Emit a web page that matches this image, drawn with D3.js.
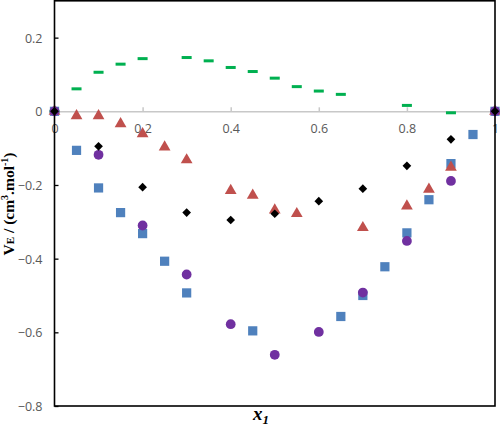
<!DOCTYPE html>
<html>
<head>
<meta charset="utf-8">
<style>
  body { margin: 0; background: #fff; }
  .tick text { font-family: "Open Sans", sans-serif; font-size: 12.5px; fill: #595959; }
</style>
</head>
<body>
<svg width="500" height="426"></svg>
<script src="https://cdn.jsdelivr.net/npm/d3@7"></script>
<script>
// values
var xTicks = [0, 0.2, 0.4, 0.6, 0.8, 1];
var yTicks = [0.2, 0, -0.2, -0.4, -0.6, -0.8];

var greenX = [0, 0.05, 0.1, 0.15, 0.2, 0.3, 0.35, 0.4, 0.45, 0.5, 0.55, 0.6, 0.65, 0.8, 0.9, 1];
var greenY = [0, 0.061, 0.106, 0.128, 0.143, 0.146, 0.137, 0.119, 0.108, 0.090, 0.067, 0.055, 0.046, 0.016, -0.004, 0];

var blueX = [0, 0.05, 0.1, 0.15, 0.2, 0.25, 0.3, 0.45, 0.65, 0.7, 0.75, 0.8, 0.85, 0.9, 0.95, 1];
var blueY = [0, -0.106, -0.208, -0.275, -0.332, -0.407, -0.493, -0.596, -0.557, -0.500, -0.422, -0.330, -0.240, -0.142, -0.063, 0];

var redX = [0, 0.05, 0.1, 0.15, 0.2, 0.25, 0.3, 0.4, 0.45, 0.5, 0.55, 0.7, 0.8, 0.85, 0.9, 1];
var redY = [0, -0.012, -0.012, -0.034, -0.061, -0.097, -0.132, -0.215, -0.228, -0.268, -0.278, -0.316, -0.257, -0.212, -0.152, 0];

var purpleX = [0, 0.1, 0.2, 0.3, 0.4, 0.5, 0.6, 0.7, 0.8, 0.9, 1];
var purpleY = [0, -0.118, -0.310, -0.443, -0.578, -0.661, -0.599, -0.492, -0.352, -0.189, 0];

var blackX = [0, 0.1, 0.2, 0.3, 0.4, 0.5, 0.6, 0.7, 0.8, 0.9, 1];
var blackY = [0, -0.095, -0.206, -0.275, -0.295, -0.278, -0.244, -0.210, -0.148, -0.076, 0];

var svg = d3.select("svg");
var plotLeft = 54.5, plotRight = 495, plotTop = 0.8, plotBottom = 406;

var x = d3.scaleLinear().domain([0, 1]).range([plotLeft, plotRight]);
var y = d3.scaleLinear().domain([-0.8, 0.3]).range([plotBottom, plotTop]);

function pairs(xs, ys) { return xs.map(function(v, i) { return [v, ys[i]]; }); }

// zero line with upward ticks and labels below
var xAxis = svg.append("g")
    .attr("transform", "translate(0," + y(0) + ")")
    .call(d3.axisTop(x).tickValues(xTicks).tickSize(4).tickFormat(d3.format("")));
xAxis.select(".domain").attr("stroke", "#c8c8c8").attr("stroke-width", 1.5);
xAxis.selectAll(".tick line").attr("stroke", "#c8c8c8").attr("stroke-width", 1.5);
xAxis.selectAll(".tick text").attr("y", 22).attr("dy", 0);

// left axis, ticks pointing inward
var yAxis = svg.append("g")
    .attr("transform", "translate(" + plotLeft + ",0)")
    .call(d3.axisLeft(y).tickValues(yTicks).tickSizeInner(-4).tickSizeOuter(0).tickPadding(12).tickFormat(d3.format("")));
yAxis.select(".domain").remove();
yAxis.selectAll(".tick line").attr("stroke", "#000").attr("stroke-width", 1.3);
yAxis.selectAll(".tick text").attr("x", -12).attr("dy", "0.36em");

// markers
svg.append("g").selectAll("rect")
  .data(pairs(greenX, greenY)).enter().append("rect")
    .attr("x", function(d) { return x(d[0]) - 5; })
    .attr("y", function(d) { return y(d[1]) - 1.5; })
    .attr("width", 10).attr("height", 3)
    .attr("fill", "#00b050");

function drawSeries(xs, ys, type, size, color) {
  svg.append("g").selectAll("path")
    .data(pairs(xs, ys)).enter().append("path")
      .attr("d", d3.symbol().type(type).size(size))
      .attr("transform", function(d) { return "translate(" + x(d[0]) + "," + y(d[1]) + ")"; })
      .attr("fill", color);
}
drawSeries(blueX, blueY, d3.symbolSquare, 85, "#4f81bd");
drawSeries(redX, redY, d3.symbolTriangle, 60, "#c0504d");
drawSeries(purpleX, purpleY, d3.symbolCircle, 75, "#7030a0");
drawSeries(blackX, blackY, d3.symbolDiamond2, 48, "#000");

// frame
svg.append("rect")
    .attr("x", plotLeft).attr("y", plotTop)
    .attr("width", plotRight - plotLeft).attr("height", plotBottom - plotTop)
    .attr("fill", "none").attr("stroke", "#000").attr("stroke-width", 1.6);

// axis titles
var yt = svg.append("text")
    .attr("transform", "translate(14,204) rotate(-90)")
    .attr("text-anchor", "middle")
    .attr("font-family", "Liberation Serif, serif")
    .attr("font-weight", "bold")
    .attr("font-size", 15.5);
yt.append("tspan").text("V");
yt.append("tspan").attr("font-size", 11).text("E");
yt.append("tspan").text(" / (cm");
yt.append("tspan").attr("font-size", 10).attr("dy", -6).text("3");
yt.append("tspan").attr("dy", 6).text(".mol");
yt.append("tspan").attr("font-size", 10).attr("dy", -6).text("-1");
yt.append("tspan").attr("dy", 6).text(")");

var xt = svg.append("text")
    .attr("x", 253).attr("y", 420)
    .attr("font-family", "Liberation Serif, serif")
    .attr("font-weight", "bold")
    .attr("font-style", "italic")
    .attr("font-size", 19);
xt.append("tspan").text("x");
xt.append("tspan").attr("font-size", 13).attr("dy", 4).text("1");
</script>
</body>
</html>
